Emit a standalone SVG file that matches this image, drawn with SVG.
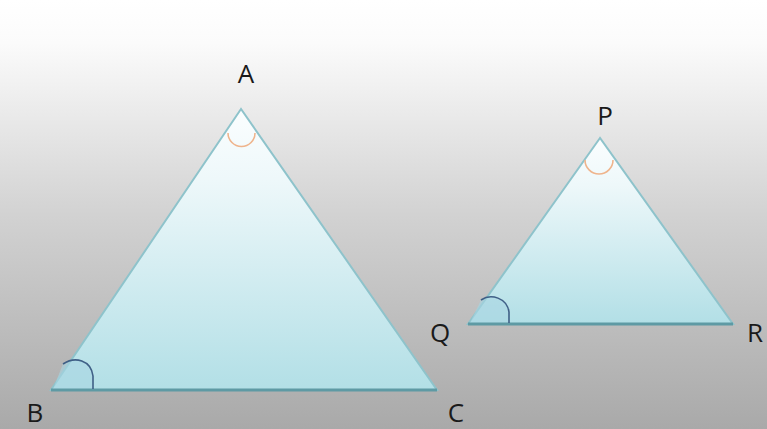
<svg xmlns="http://www.w3.org/2000/svg" width="767" height="429" viewBox="0 0 767 429">
<defs>
<linearGradient id="bg" x1="0" y1="0" x2="0" y2="1">
<stop offset="0" stop-color="#ffffff"/>
<stop offset="0.1" stop-color="#fbfbfb"/>
<stop offset="0.5" stop-color="#d2d2d2"/>
<stop offset="1" stop-color="#a9a9a9"/>
</linearGradient>
<linearGradient id="tri1" gradientUnits="userSpaceOnUse" x1="0" y1="109" x2="0" y2="390">
<stop offset="0" stop-color="#fbfeff"/>
<stop offset="0.25" stop-color="#eef8fa"/>
<stop offset="1" stop-color="#b2dfe6"/>
</linearGradient>
<linearGradient id="tri2" gradientUnits="userSpaceOnUse" x1="0" y1="138" x2="0" y2="324">
<stop offset="0" stop-color="#fbfeff"/>
<stop offset="0.25" stop-color="#eef8fa"/>
<stop offset="1" stop-color="#b2dfe6"/>
</linearGradient>
</defs>
<style>
.edge{stroke:#8ec3cb;stroke-width:2;stroke-linejoin:miter}
.base{stroke:#5e9aa4;stroke-width:3;fill:none}
.top{fill:none;stroke:#efb48c;stroke-width:1.6}
.bot{fill:none;stroke:#3f5f86;stroke-width:1.6}
.lbl{font-family:"Open Sans","DejaVu Sans",sans-serif;font-size:26px;fill:#1a1a1a;text-anchor:middle}
</style>
<rect x="0" y="0" width="767" height="429" fill="url(#bg)"/>
<g id="triangle-ABC">
<polygon class="edge" points="241,109 51,390 437,390" fill="url(#tri1)"/>
<path d="M63,364 C75,356 91,360 93,376 L93,389 L53,389 Z" fill="#a9d6e2" opacity="0.6"/>
<line class="base" x1="51" y1="390" x2="437" y2="390"/>
<path class="top" d="M228,133 A13.5,13.5 0 0 0 255,133"/>
<path class="bot" d="M63,364 C75,356 91,360 93,376 L93,389"/>
</g>
<g id="triangle-PQR">
<polygon class="edge" points="600,138 468,324 733,324" fill="url(#tri2)"/>
<path d="M481,300 C491,293 507,298 509,312 L509,323 L470,323 Z" fill="#a9d6e2" opacity="0.6"/>
<line class="base" x1="468" y1="324" x2="733" y2="324"/>
<path class="top" d="M585,160 A14,14 0 0 0 613,160"/>
<path class="bot" d="M481,300 C491,293 507,298 509,312 L509,323"/>
</g>
<g id="labels">
<text class="lbl" x="246" y="83">A</text>
<text class="lbl" x="35" y="422">B</text>
<text class="lbl" x="456" y="422">C</text>
<text class="lbl" x="605" y="125">P</text>
<text class="lbl" x="440" y="342">Q</text>
<text class="lbl" x="755" y="342">R</text>
</g>
<g id="connectors"></g>
</svg>
